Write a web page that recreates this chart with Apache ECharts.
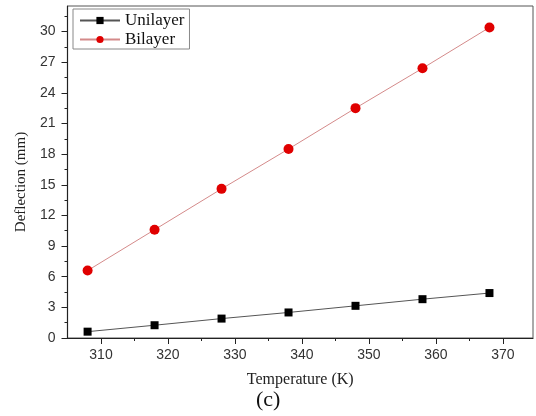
<!DOCTYPE html>
<html lang="en">
<head>
    <meta charset="UTF-8">
    <title>Deflection vs Temperature</title>
    <script src="https://cdn.jsdelivr.net/npm/echarts@6/dist/echarts.min.js"></script>
    <style>
        html, body { margin: 0; padding: 0; background: #fff; }
        #main { width: 536px; height: 416px; }
    </style>
</head>
<body>
<div id="main"></div>
<script type="text/javascript">
    // data
    var temperature = [308, 318, 328, 338, 348, 358, 368];
    var unilayer = [0.62, 1.25, 1.9, 2.5, 3.15, 3.8, 4.4];
    var bilayer = [6.6, 10.6, 14.6, 18.5, 22.5, 26.4, 30.4];

    var xTicks = [310, 320, 330, 340, 350, 360, 370];
    var xMinor = [315, 325, 335, 345, 355, 365];
    var yTicks = [0, 3, 6, 9, 12, 15, 18, 21, 24, 27, 30];
    var yMinor = [1.5, 4.5, 7.5, 10.5, 13.5, 16.5, 19.5, 22.5, 25.5, 28.5, 31.5];

    function pairs(xs, ys) {
        var out = [];
        for (var i = 0; i < xs.length; i++) out.push([xs[i], ys[i]]);
        return out;
    }

    var axisColor = '#222';
    var labelFont = {color: '#333', fontSize: 14, fontFamily: 'Liberation Sans'};

    var myChart = echarts.init(document.getElementById('main'));
    myChart.setOption({
        animation: false,
        title: {
            text: '(c)',
            left: 256,
            top: 389,
            padding: 0,
            textStyle: {fontFamily: 'Liberation Serif', fontWeight: 'normal', fontSize: 22, color: '#111'}
        },
        grid: {
            left: 67.5, right: 3, top: 6, bottom: 78,
            show: true, borderColor: '#555', borderWidth: 1
        },
        legend: {
            left: 73, top: 9,
            orient: 'vertical',
            padding: [3, 5, 1, 6],
            itemGap: 2,
            itemWidth: 40,
            itemHeight: 9,
            borderColor: '#888',
            borderWidth: 1,
            textStyle: {fontFamily: 'Liberation Serif', fontSize: 17, color: '#111'},
            data: ['Unilayer', 'Bilayer']
        },
        xAxis: [{
            type: 'value', min: 305, max: 374.5,
            name: 'Temperature (K)', nameLocation: 'middle', nameGap: 34,
            nameTextStyle: {fontFamily: 'Liberation Serif', fontSize: 16, color: '#222'},
            axisLine: {lineStyle: {color: axisColor, width: 1.2}},
            axisTick: {customValues: xTicks, length: 6, lineStyle: {color: axisColor}},
            axisLabel: Object.assign({customValues: xTicks, margin: 10}, labelFont),
            splitLine: {show: false}
        }, {
            type: 'value', min: 305, max: 374.5, position: 'bottom',
            axisLine: {show: false},
            axisTick: {customValues: xMinor, length: 3, lineStyle: {color: axisColor}},
            axisLabel: {show: false},
            splitLine: {show: false}
        }],
        yAxis: [{
            type: 'value', min: 0, max: 32.5,
            name: 'Deflection (mm)', nameLocation: 'middle', nameGap: 38,
            nameTextStyle: {fontFamily: 'Liberation Serif', fontSize: 15, color: '#222', padding: [0, 20, 0, 0]},
            axisLine: {show: true, lineStyle: {color: axisColor, width: 1.2}},
            axisTick: {show: true, customValues: yTicks, length: 6, lineStyle: {color: axisColor}},
            axisLabel: Object.assign({customValues: yTicks, margin: 12}, labelFont),
            splitLine: {show: false}
        }, {
            type: 'value', min: 0, max: 32.5, position: 'left',
            axisLine: {show: false},
            axisTick: {show: true, customValues: yMinor, length: 3, lineStyle: {color: axisColor}},
            axisLabel: {show: false},
            splitLine: {show: false}
        }],
        series: [{
            name: 'Unilayer', type: 'line',
            data: pairs(temperature, unilayer),
            symbol: 'rect', symbolSize: 8,
            itemStyle: {color: '#000'},
            lineStyle: {color: '#555', width: 1}
        }, {
            name: 'Bilayer', type: 'line',
            data: pairs(temperature, bilayer),
            symbol: 'circle', symbolSize: 10,
            itemStyle: {color: '#e00000'},
            lineStyle: {color: '#d48a8a', width: 1}
        }]
    });
</script>
</body>
</html>
